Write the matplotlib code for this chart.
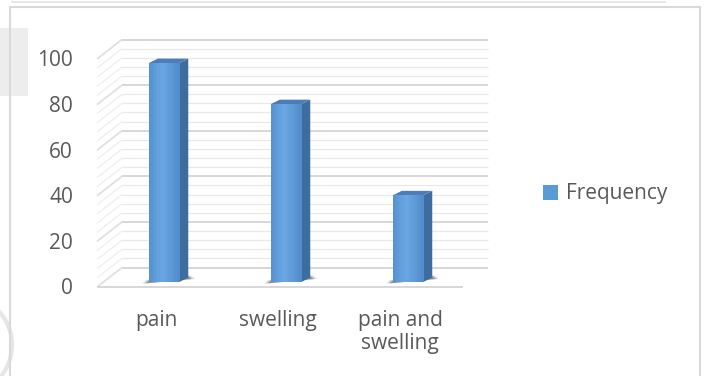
"""
Pseudo-3D clustered column chart of symptom frequency, drawn on a plain
2D axes: the walls, floor and column faces are projected with fixed
pixel shifts from the data plane.
"""

import numpy as np
import matplotlib
matplotlib.use("Agg")
import matplotlib.pyplot as plt
from matplotlib.patches import Polygon, Rectangle, Patch, Arc
from matplotlib.transforms import IdentityTransform

categories = ["pain", "swelling", "pain and\nswelling"]
frequency = [96, 78, 38]
y_ticks = [0, 20, 40, 60, 80, 100]
minor_step = 4
series_label = "Frequency"

W, H = 704, 376
FONT = "Open Sans"
FONT_SIZE = 15
TEXT_COLOR = "#595959"
FRONT_FACE = "#5B9BD5"
FRONT_EDGE = "#4F8BC9"
SIDE_FACE = "#3D6C9E"
TOP_FACE = "#4C7DB8"

BACK = np.array([19.0, 14.5])   # bar plane -> back wall
FRONT = np.array([-6.0, -5.0])  # bar plane -> front edge of floor
DEPTH = np.array([9.0, 4.5])    # column depth
BAR_WIDTH = 0.25

fig = plt.figure(figsize=(W / 100, H / 100), dpi=100)
fig.patch.set_facecolor("white")
ax = fig.add_axes([103 / W, 94 / H, 366 / W, 228 / H])
ax.set_xlim(-0.5, len(categories) - 0.5)
ax.set_ylim(0, 100)
ax.axis("off")
screen = IdentityTransform()


def px(x, v, shift=(0.0, 0.0)):
    return ax.transData.transform((x, v)) + np.asarray(shift)


def face(points, color, z, alpha=1.0):
    ax.add_patch(Polygon(np.array(points), closed=True, facecolor=color,
                         edgecolor="none", transform=screen, clip_on=False,
                         zorder=z, alpha=alpha))


def segment(p, q, color, lw, z=1):
    ax.plot([p[0], q[0]], [p[1], q[1]], color=color, linewidth=lw,
            transform=screen, clip_on=False, zorder=z,
            solid_capstyle="butt")


x_left, x_right = -0.5, len(categories) - 0.5

# back wall and left wall grid
for v in np.arange(0, 101, minor_step):
    major = v % 20 == 0
    color = "#D4D4D4" if major else "#E8E8E8"
    lw = 1.3 if major else 0.9
    segment(px(x_left, v, BACK), px(x_right, v, BACK), color, lw)
    segment(px(x_left, v, FRONT), px(x_left, v, BACK),
            "#E0E0E0" if major else "#EEEEEE", lw)

# floor front edge
segment(px(x_left, 0, FRONT), px(x_right, 0, FRONT), "#D4D4D4", 1.3)

# columns
for i, value in enumerate(frequency):
    x0, x1 = i - BAR_WIDTH / 2, i + BAR_WIDTH / 2
    # soft contact shadow
    base_l, base_r = px(x0, 0), px(x1, 0) + DEPTH
    for grow, alpha in [(7, 0.12), (5, 0.2), (3, 0.35)]:
        face([base_l + (-grow, -1.5), base_r + (grow, -1.5),
              base_r + (grow - 4, 2), base_l + (-grow + 4, 2)],
             "#333333", 2, alpha)
    # side and top
    face([px(x1, 0), px(x1, 0) + DEPTH, px(x1, value) + DEPTH,
          px(x1, value)], SIDE_FACE, 3)
    face([px(x0, value), px(x1, value), px(x1, value) + DEPTH,
          px(x0, value) + DEPTH], TOP_FACE, 3)
    # front face with a gentle horizontal gradient
    strips = 14
    edges = np.linspace(x0, x1, strips + 1)
    light = np.array(matplotlib.colors.to_rgb("#6AA8E4"))
    dark = np.array(matplotlib.colors.to_rgb(FRONT_EDGE))
    for k in range(strips):
        t = abs((k + 0.5) / strips - 0.45) / 0.55
        color = light * (1 - t) + dark * t
        face([px(edges[k], 0), px(edges[k + 1], 0) + (0.5, 0),
              px(edges[k + 1], value) + (0.5, 0), px(edges[k], value)],
             color, 4)

# value axis labels on the front edge
for v in y_ticks:
    p = px(x_left, v, FRONT)
    ax.text(p[0] - 24, p[1] - 2, str(v), transform=screen, ha="right",
            va="center", fontsize=FONT_SIZE, color=TEXT_COLOR, family=FONT)

# category labels
for i, name in enumerate(categories):
    p = px(i, 0, FRONT)
    ax.text(p[0] - 2, p[1] - 23, name, transform=screen, ha="center",
            va="top", fontsize=FONT_SIZE, color=TEXT_COLOR, family=FONT,
            linespacing=1.15)

fig.legend(handles=[Patch(facecolor=FRONT_FACE, edgecolor="none",
                          label=series_label)],
           loc="center left", bbox_to_anchor=(543 / W, 1 - 194 / H),
           frameon=False, handlelength=0.7, handleheight=0.7,
           handletextpad=0.4, borderpad=0, borderaxespad=0,
           prop={"family": FONT, "size": FONT_SIZE}, labelcolor=TEXT_COLOR)

# chart frame and the faint page marks around it
fig.add_artist(Rectangle((0, 1 - 96 / H), 28 / W, 68 / H,
                         transform=fig.transFigure, facecolor="#EDEDED",
                         edgecolor="none", zorder=0))
fig.add_artist(Arc((-38 / W, 1 - 345 / H), 100 / W, 100 / H, theta1=-70,
                   theta2=70, transform=fig.transFigure, color="#E6E6E6",
                   linewidth=3, zorder=0))
fig.add_artist(Rectangle((10 / W, -0.02), 690 / W, 1.02 - 7 / H,
                         transform=fig.transFigure, facecolor="none",
                         edgecolor="#D9D9D9", linewidth=1.5, zorder=1))
fig.add_artist(plt.Line2D([12 / W, 665 / W], [1 - 1.5 / H, 1 - 1.5 / H],
                          transform=fig.transFigure, color="#E3E3E3",
                          linewidth=1.2))

fig.savefig("out.png", dpi=100)
plt.close(fig)
